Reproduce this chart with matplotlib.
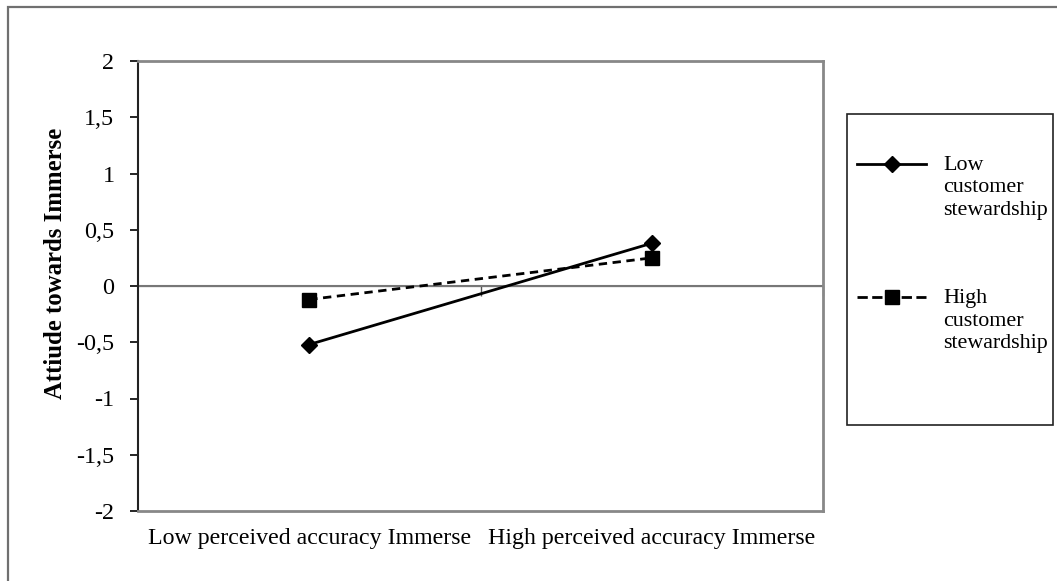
import numpy as np
import matplotlib.pyplot as plt
from matplotlib.lines import Line2D
from matplotlib.patches import Rectangle

plt.rcParams['font.family'] = ['Liberation Serif', 'DejaVu Serif']

W, H = 1057, 581

categories = ["Low perceived accuracy Immerse", "High perceived accuracy Immerse"]
low_steward = [-0.52, 0.38]
high_steward = [-0.12, 0.25]
series_names = ["Low\ncustomer\nstewardship", "High\ncustomer\nstewardship"]
y_ticks = [-2, -1.5, -1, -0.5, 0, 0.5, 1, 1.5, 2]
y_tick_labels = ["-2", "-1,5", "-1", "-0,5", "0", "0,5", "1", "1,5", "2"]

def fx(px):
    return px / W

def fy(py):
    return 1 - py / H

fig = plt.figure(figsize=(W / 100, H / 100), dpi=100)
ax = fig.add_axes([fx(138), fy(511), (823 - 138) / W, (511 - 61) / H])

x = np.arange(1, len(categories) + 1)
line_low, = ax.plot(x, low_steward, color='black', lw=2, marker='D',
                    markersize=8, zorder=3)
line_high, = ax.plot(x, high_steward, color='black', lw=2, ls=(0, (3, 2)),
                     marker='s', markersize=10, zorder=3)

ax.set_xlim(0.5, 2.5)
ax.set_ylim(-2, 2)
ax.set_yticks(y_ticks)
ax.set_yticklabels(y_tick_labels)
ax.set_xticks(x)
ax.set_xticklabels(categories)
ax.tick_params(axis='x', length=0, pad=12, labelsize=17.2)
ax.tick_params(axis='y', direction='out', length=6, width=1.2, pad=11,
               labelsize=17.4)

for side in ['top', 'right', 'bottom']:
    ax.spines[side].set_color('#888888')
    ax.spines[side].set_linewidth(2)
ax.spines['left'].set_color('#222222')
ax.spines['left'].set_linewidth(1.5)

# category axis crossing at zero
ax.axhline(0, color='#777777', lw=1.5, zorder=1)
sec = ax.secondary_xaxis(0.5)
sec.set_xticks([1.5, 2.5])
sec.set_xticklabels([])
sec.tick_params(direction='in', length=7, width=1, color='#555555')
sec.spines['bottom'].set_visible(False)

ax.set_ylabel("Attiude towards Immerse", fontsize=17.8, fontweight='bold')
ax.yaxis.set_label_coords(-(138 - 67) / 685, (511 - 263) / 450)

# chart border
fig.add_artist(Rectangle((fx(8), fy(H + 10)), fx(W + 10), fy(7) - fy(H + 10),
                         transform=fig.transFigure, fill=False,
                         edgecolor='#707070', lw=1.6))

# legend box and entries
fig.add_artist(Rectangle((fx(847), fy(425)), fx(1053) - fx(847), fy(114) - fy(425),
                         transform=fig.transFigure, fill=False,
                         edgecolor='#222222', lw=1.2))
for src, name, py in [(line_low, series_names[0], 164),
                      (line_high, series_names[1], 297)]:
    fig.add_artist(Line2D([fx(857), fx(926)], [fy(py)] * 2,
                          transform=fig.transFigure, color=src.get_color(),
                          lw=src.get_linewidth(), ls=src.get_linestyle()))
    fig.add_artist(Line2D([fx(892)], [fy(py)], transform=fig.transFigure,
                          color='black', marker=src.get_marker(),
                          markersize=src.get_markersize(), ls='none'))
    fig.text(fx(943), fy(py - 8), name, fontsize=15.8, va='top', ha='left',
             linespacing=1.25)

fig.savefig("out.png", dpi=100)
